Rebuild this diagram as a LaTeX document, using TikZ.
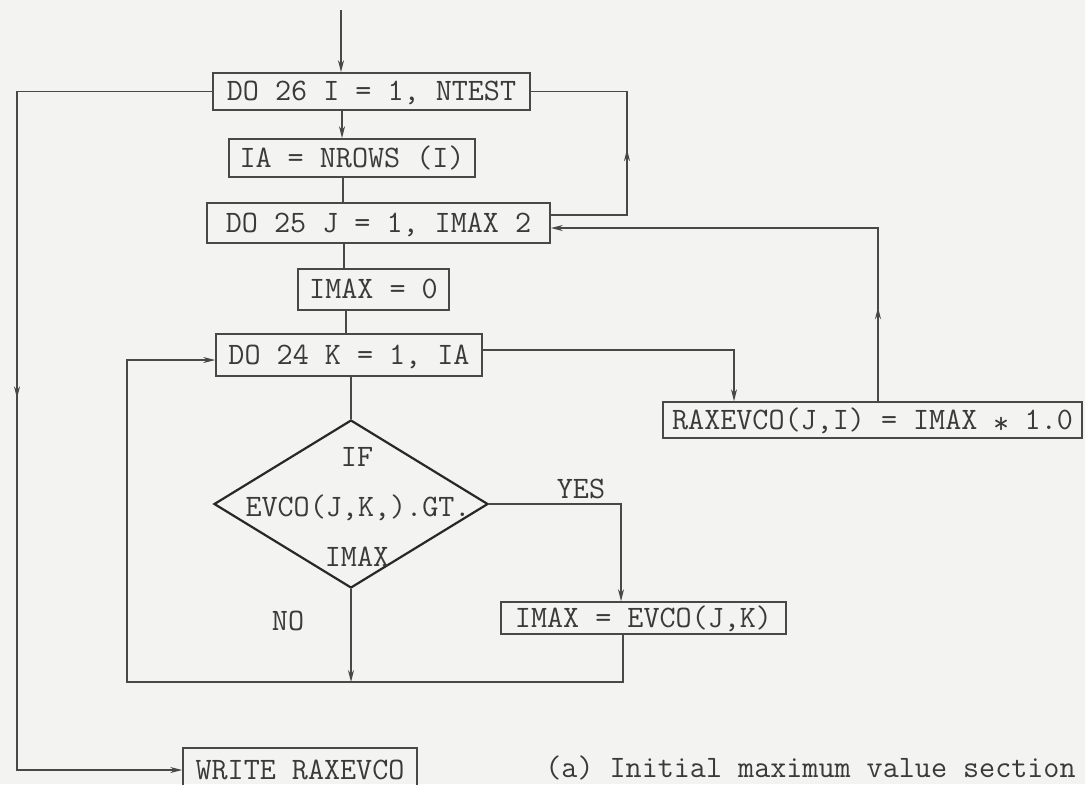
\documentclass[tikz,border=0pt]{standalone}
\usepackage{fontspec}
\usetikzlibrary{arrows.meta,shapes.geometric,decorations.markings}
\definecolor{paper}{RGB}{243,243,241}
\definecolor{ink}{RGB}{58,58,58}
\definecolor{lineink}{RGB}{72,72,72}
\definecolor{diaink}{RGB}{40,40,40}
\tikzset{
  tt/.style={font=\ttfamily\fontsize{15.6}{18}\selectfont, text=ink, text height=9.4pt, text depth=0pt},
  fbox/.style={tt, draw=lineink, line width=0.8pt, inner sep=0pt},
  lbl/.style={tt, inner sep=0pt},
  conn/.style={draw=lineink, line width=0.7pt},
  arr/.style={conn, -{Stealth[length=6pt,width=3pt]}},
  midarr/.style={postaction={decorate}, decoration={markings,
      mark=at position #1 with {\arrow{Stealth[length=6pt,width=3pt]}}}},
}
\begin{document}
\begin{tikzpicture}[x=0.5pt,y=-0.5pt]
\useasboundingbox (0,0) rectangle (1085,784);
\fill[paper] (0,0) rectangle (1085,784);

% boxes
\node[fbox, minimum width=158.5pt, minimum height=18.5pt] (do26) at (371.5,91.5) {DO 26 I = 1, NTEST};
\node[fbox, minimum width=123pt, minimum height=19pt] (ia) at (352,158) {IA = NROWS (I)};
\node[fbox, minimum width=171.5pt, minimum height=20pt] (do25) at (378.5,223) {DO 25 J = 1, IMAX 2};
\node[fbox, minimum width=75.5pt, minimum height=20.5pt] (imax0) at (373.5,289.5) {IMAX = 0};
\node[fbox, minimum width=133pt, minimum height=21pt] (do24) at (349,355) {DO 24 K = 1, IA};
\node[fbox, minimum width=209.5pt, minimum height=18pt] (rax) at (872.5,420) {RAXEVCO(J,I) = IMAX\kern0.5em\raisebox{-0.28ex}{*}\kern0.5em1.0};
\node[fbox, minimum width=142.5pt, minimum height=16pt] (imaxevco) at (643.5,618) {IMAX = EVCO(J,K)};
\node[fbox, minimum width=117pt, minimum height=22pt] (write) at (300,770) {WRITE RAXEVCO};

% decision
\node[diamond, draw=diaink, line width=1.1pt, minimum width=137pt, minimum height=84pt, inner sep=0pt] (dia) at (351,504) {};
\node[lbl] (dif) at (357,457) {IF};
\node[lbl] (dcond) at (358,507) {EVCO(J,K,).GT.};
\node[lbl] (dimax) at (357,557) {IMAX};

% labels
\node[lbl] (yes) at (581,489) {YES};
\node[lbl] (no) at (288,621) {NO};
\node[tt, inner sep=0pt, anchor=base east] (cap) at (1076,777) {(a) Initial maximum value section};

% helper coordinates
\coordinate (in) at (341,10);
\coordinate (s1) at (342,0);
\coordinate (s2) at (343,0);
\coordinate (s3) at (344,0);
\coordinate (s4) at (346,0);
\coordinate (L) at (17,0);
\coordinate (L2) at (127,0);
\coordinate (R1) at (627,0);
\coordinate (R2) at (878,0);
\coordinate (X3) at (734,0);
\coordinate (X4) at (621,0);
\coordinate (X5) at (623,0);
\coordinate (B) at (0,682);
\coordinate (d25up) at ([yshift=4pt]do25.east);
\coordinate (d25lo) at ([yshift=-2.5pt]do25.east);
\coordinate (d24r) at ([yshift=2.5pt]do24.east);
\coordinate (d24l) at ([yshift=-2.5pt]do24.west);

% main spine
\draw[arr] (in) -- (in |- do26.north);
\draw[arr] (do26.south -| s1) -- (ia.north -| s1);
\draw[conn] (ia.south -| s2) -- (do25.north -| s2);
\draw[conn] (do25.south -| s3) -- (imax0.north -| s3);
\draw[conn] (imax0.south -| s4) -- (do24.north -| s4);
\draw[conn] (do24.south -| dia.north) -- (dia.north);

% outer loop exit to WRITE
\draw[arr, midarr=251pt] (do26.west) -- (do26.west -| L) -- (L |- write.west) -- (write.west);

% NTEST loop back
\draw[conn, midarr=71pt] (d25up) -- (d25up -| R1) -- (R1 |- do26.east) -- (do26.east);

% K loop exit to RAXEVCO
\draw[arr] (d24r) -- (d24r -| X3) -- (X3 |- rax.north);

% RAXEVCO back to DO 25
\draw[arr, midarr=47pt] (rax.north -| R2) -- (R2 |- d25lo) -- (d25lo);

% YES branch
\draw[arr] (dia.east) -- (dia.east -| X4) -- (X4 |- imaxevco.north);

% NO branch
\draw[arr] (dia.south) -- (dia.south |- B);

% K loop return
\draw[arr] (imaxevco.south -| X5) -- (X5 |- B) -- (L2 |- B) -- (L2 |- d24l) -- (d24l);
\end{tikzpicture}
\end{document}
